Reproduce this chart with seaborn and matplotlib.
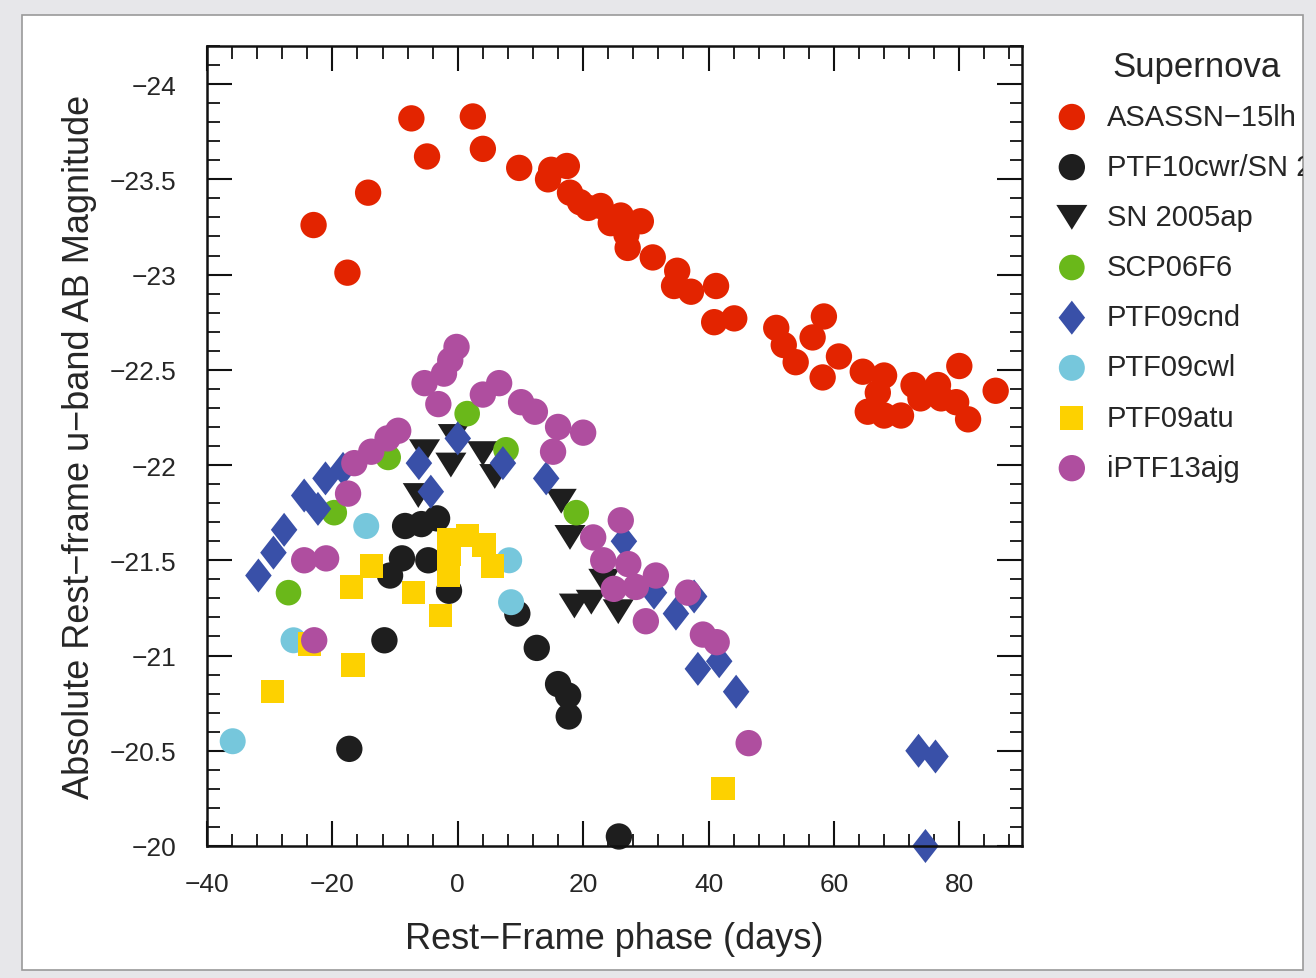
import matplotlib
matplotlib.use("Agg")
import matplotlib.pyplot as plt
import seaborn as sns
import numpy as np
import pandas as pd
from matplotlib.path import Path
from matplotlib.markers import MarkerStyle
from matplotlib.patches import Rectangle
from matplotlib.transforms import Bbox, TransformedBbox
from matplotlib.ticker import MultipleLocator, FuncFormatter

# ---------------- data ----------------
names = ["ASASSN\u221215lh", "PTF10cwr/SN 2010gx", "SN 2005ap", "SCP06F6",
         "PTF09cnd", "PTF09cwl", "PTF09atu", "iPTF13ajg"]
colors = ["#e32400", "#1e1e1e", "#1e1e1e", "#6ab81a",
          "#3950a8", "#76c7dc", "#fdd100", "#af4e9f"]

asassn_x = [-23.0, -17.6, -14.3, -7.4, -4.9, 2.4, 4.0, 9.8, 14.4, 14.9, 17.4, 17.9, 19.5, 20.8,
            22.8, 24.4, 26.0, 29.2, 27.1, 26.9, 31.1, 35.0, 34.5, 37.2, 41.2, 40.9, 44.1, 50.8,
            52.0, 53.9, 56.6, 58.4, 58.2, 60.8, 64.6, 68.0, 67.0, 65.4, 68.0, 70.7, 72.7, 73.8,
            76.6, 77.1, 79.5, 81.4, 80.0, 85.8]
asassn_y = [-23.26, -23.01, -23.43, -23.82, -23.62, -23.83, -23.66, -23.56, -23.50, -23.55,
            -23.57, -23.43, -23.38, -23.35, -23.36, -23.27, -23.31, -23.28, -23.14, -23.21,
            -23.09, -23.02, -22.94, -22.91, -22.94, -22.75, -22.77, -22.72, -22.63, -22.54,
            -22.67, -22.78, -22.46, -22.57, -22.49, -22.47, -22.38, -22.28, -22.26, -22.26,
            -22.42, -22.35, -22.42, -22.35, -22.33, -22.24, -22.52, -22.39]

ptf10cwr_x = [-17.3, -11.7, -10.8, -8.9, -4.7, -8.4, -5.8, -3.3, -1.4, 9.5, 12.6, 16.0, 17.6, 17.7, 25.7]
ptf10cwr_y = [-20.51, -21.08, -21.42, -21.51, -21.50, -21.68, -21.69, -21.72, -21.34, -21.22,
              -21.04, -20.85, -20.79, -20.68, -20.05]

sn2005ap_x = [-5.3, -1.1, -0.7, 4.0, 5.9, -6.3, 16.5, 17.9, 23.3, 21.3, 18.6, 25.6]
sn2005ap_y = [-22.07, -22.00, -22.15, -22.06, -21.94, -21.84, -21.81, -21.62, -21.39, -21.28,
              -21.26, -21.23]

scp06f6_x = [-27.0, -19.7, -11.1, 1.5, 7.7, 18.9]
scp06f6_y = [-21.33, -21.75, -22.04, -22.27, -22.08, -21.75]

ptf09cnd_x = [-31.8, -29.4, -27.7, -24.5, -22.3, -21.1, -18.3, -6.2, -4.3, 0.0, 7.2, 14.1,
              26.5, 31.3, 34.8, 37.7, 38.3, 41.7, 44.4, 73.5, 76.2, 74.6]
ptf09cnd_y = [-21.42, -21.54, -21.66, -21.84, -21.77, -21.93, -21.98, -22.01, -21.86, -22.14,
              -22.01, -21.93, -21.60, -21.33, -21.22, -21.31, -20.93, -20.97, -20.81, -20.50,
              -20.47, -20.00]

ptf09cwl_x = [-35.9, -26.2, -14.6, 8.2, 8.5]
ptf09cwl_y = [-20.55, -21.08, -21.68, -21.50, -21.28]

ptf09atu_x = [-29.6, -23.7, -16.7, -17.0, -13.8, -7.1, -2.8, -1.5, -1.4, -1.5, 1.6, 4.2, 5.6, 42.3]
ptf09atu_y = [-20.81, -21.06, -20.95, -21.36, -21.47, -21.33, -21.21, -21.61, -21.53, -21.42,
              -21.63, -21.58, -21.47, -20.30]

iptf13ajg_x = [-0.2, -1.2, -2.2, -5.3, -3.1, -9.5, -11.2, -13.8, -16.5, -17.5, -24.5, -21.0,
               -22.9, 4.0, 6.6, 10.1, 12.3, 16.0, 20.0, 15.2, 26.0, 21.6, 23.2, 27.2, 31.6,
               24.9, 28.4, 36.7, 30.0, 39.1, 41.3, 46.4]
iptf13ajg_y = [-22.62, -22.55, -22.48, -22.43, -22.32, -22.18, -22.14, -22.07, -22.01, -21.85,
               -21.50, -21.51, -21.08, -22.37, -22.43, -22.33, -22.28, -22.20, -22.17, -22.07,
               -21.71, -21.62, -21.50, -21.48, -21.42, -21.35, -21.36, -21.33, -21.18, -21.11,
               -21.07, -20.54]

xs = [asassn_x, ptf10cwr_x, sn2005ap_x, scp06f6_x, ptf09cnd_x, ptf09cwl_x, ptf09atu_x, iptf13ajg_x]
ys = [asassn_y, ptf10cwr_y, sn2005ap_y, scp06f6_y, ptf09cnd_y, ptf09cwl_y, ptf09atu_y, iptf13ajg_y]

# ---------------- styles ----------------
diamond = MarkerStyle(Path([(0, 1), (0.78, 0), (0, -1), (-0.78, 0), (0, 1)], closed=True))
tri_down = MarkerStyle(Path([(-1, 0.8), (1, 0.8), (0, -0.8), (-1, 0.8)], closed=True))
markers = ["o", "o", tri_down, "o", diamond, "o", "s", "o"]
sizes = [360, 360, 500, 340, 600, 350, 280, 360]

sns.set_style("ticks")
plt.rcParams["font.family"] = ["Liberation Sans", "DejaVu Sans"]

W, H = 1316, 979
fig = plt.figure(figsize=(W / 100, H / 100), dpi=100)
fig.patch.set_facecolor("#e7e7ea")
panel = Rectangle((22 / W, 1 - 971 / H), (1303 - 22) / W, (971 - 16) / H,
                  transform=fig.transFigure, facecolor="white", edgecolor="#9a9a9a",
                  lw=1.2, zorder=0)
fig.add_artist(panel)

ax = fig.add_axes([207 / W, 1 - 847 / H, (1022 - 207) / W, (847 - 47) / H])
ax.set_facecolor("white")

for name, col, mk, sz, xv, yv in zip(names, colors, markers, sizes, xs, ys):
    df = pd.DataFrame({"phase": xv, "mag": yv})
    sns.scatterplot(data=df, x="phase", y="mag", ax=ax, color=col, marker=mk, s=sz,
                    edgecolor="none", linewidth=0, label=name, clip_on=False, legend=False)

ax.set_xlim(-40, 90)
ax.set_ylim(-20, -24.2)
ax.xaxis.set_major_locator(MultipleLocator(20))
ax.xaxis.set_minor_locator(MultipleLocator(4))
ax.yaxis.set_major_locator(MultipleLocator(0.5))
ax.yaxis.set_minor_locator(MultipleLocator(0.1))
ax.set_xticks([-40, -20, 0, 20, 40, 60, 80])


def fmt(v, pos):
    return f"{v:g}".replace("-", "\u2212")


ax.yaxis.set_major_formatter(FuncFormatter(fmt))
ax.xaxis.set_major_formatter(FuncFormatter(fmt))

for sp in ax.spines.values():
    sp.set_linewidth(1.8)
    sp.set_color("#111111")
ax.tick_params(which="both", direction="in", top=True, right=True, color="#111111")
ax.tick_params(which="major", length=18, width=1.5, labelsize=19)
ax.tick_params(which="minor", length=9, width=1.3)
ax.tick_params(axis="x", which="major", pad=19)
ax.tick_params(axis="y", which="major", pad=22)

ax.set_xlabel("Rest\u2212Frame phase (days)", fontsize=26, labelpad=18)
ax.set_ylabel("Absolute Rest\u2212frame u\u2212band AB Magnitude", fontsize=26, labelpad=9)

handles, labels = ax.get_legend_handles_labels()
leg = fig.legend(handles, labels, loc="upper left",
                 bbox_to_anchor=(1031 / W, 1 - 92 / H), frameon=False,
                 fontsize=21, labelspacing=0.76,
                 handletextpad=0.2, borderaxespad=0, scatterpoints=1)
fig.text(1197 / W, 1 - 68 / H, "Supernova", fontsize=25, ha="center", va="center")
clipbb = TransformedBbox(Bbox.from_extents(0, 0, 1303 / W, 1), fig.transFigure)
for t in leg.get_texts():
    t.set_clip_box(clipbb)
    t.set_clip_on(True)

fig.savefig("out.png", dpi=100, facecolor=fig.get_facecolor())
